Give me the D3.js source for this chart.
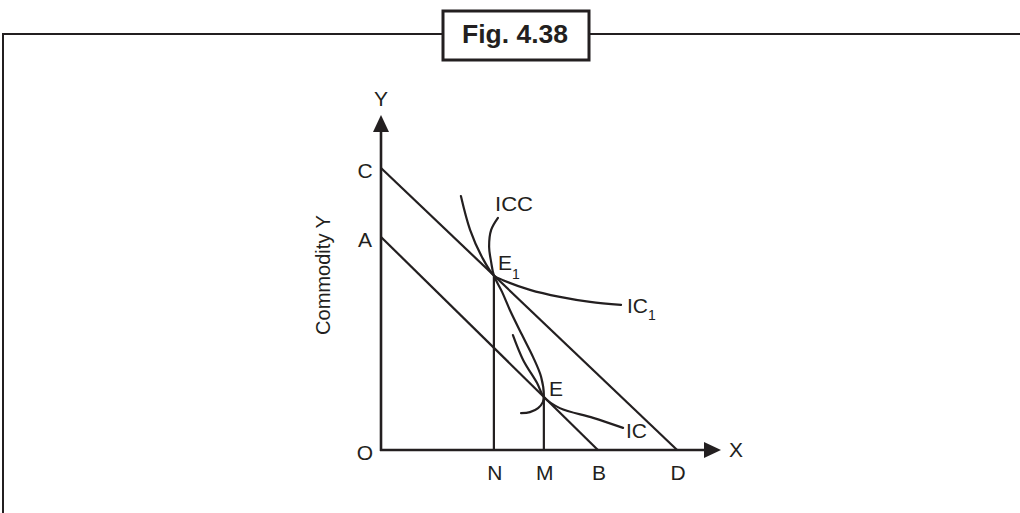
<!DOCTYPE html>
<html><head><meta charset="utf-8">
<script src="https://cdn.jsdelivr.net/npm/d3@7"></script>
<style>html,body{margin:0;padding:0;background:#fff;}svg{display:block;}text{font-family:"Liberation Sans",Arial,sans-serif;fill:#231f20;}</style>
</head><body><div id="chart"></div>
<script>
// Data (in abstract axis units: 0..100 on each axis)
const budgetCD = [[0, 84.2], [87.1, 0]];
const budgetAB = [[0, 63.6], [63.8, 0]];
const pointE1 = [33.2, 52.1];
const pointE = [47.9, 15.85];
const ic1Curve = [[23.5,75.8],[26.2,65.7],[29.7,57.6],[33.2,52.1],[35.9,50.7],[43.8,47.8],[52.6,45.7],[61.5,44.2],[70.6,43.3]];
const icCurve = [[38.8,34.3],[41.8,26.9],[45.9,20.0],[47.9,15.85],[52.6,12.5],[62.4,9.6],[71.2,6.6]];
const iccCurve = [[34.4,69.3],[32.4,65.7],[31.8,60.6],[32.4,56.1],[33.2,52.1],[35.6,47.2],[37.9,41.8],[41.5,34.3],[44.7,27.8],[47.1,21.8],[47.9,15.85],[47.6,14.3],[46.2,12.5],[43.8,11.3],[41.2,11.0]];
const xTickLabels = [["N",33.2],["M",47.9],["B",63.8],["D",87.1]];
const yTickLabels = [["C",84.2],["A",63.6],["O",0]];

const W = 1020, H = 513;
const ink = "#231f20";
const svg = d3.select("#chart").append("svg").attr("width", W).attr("height", H);

const x = d3.scaleLinear().domain([0, 100]).range([381, 721]);
const y = d3.scaleLinear().domain([0, 100]).range([450, 115]);

// frame
svg.append("line").attr("x1", 3).attr("x2", W).attr("y1", 34).attr("y2", 34).attr("stroke", ink).attr("stroke-width", 2);
svg.append("line").attr("x1", 3).attr("x2", 3).attr("y1", 33).attr("y2", H).attr("stroke", ink).attr("stroke-width", 2);
svg.append("rect").attr("x", 443).attr("y", 11).attr("width", 146).attr("height", 49).attr("fill", "#fff").attr("stroke", ink).attr("stroke-width", 3);
svg.append("text").attr("x", 462).attr("y", 43).attr("font-size", 25).attr("font-weight", "bold")
  .attr("textLength", 106).attr("lengthAdjust", "spacingAndGlyphs").text("Fig. 4.38");

// axes
const axisW = 2.6;
svg.append("line").attr("x1", x(0)).attr("x2", x(0)).attr("y1", y(0) + 1).attr("y2", y(100) + 14).attr("stroke", ink).attr("stroke-width", axisW);
svg.append("line").attr("x1", x(0) - 1).attr("x2", x(100) - 14).attr("y1", y(0)).attr("y2", y(0)).attr("stroke", ink).attr("stroke-width", axisW);
svg.append("path").attr("d", `M${x(0)},${y(100)} L${x(0)-8},${y(100)+17} L${x(0)+8},${y(100)+17} Z`).attr("fill", ink);
svg.append("path").attr("d", `M${x(100)},${y(0)} L${x(100)-17},${y(0)-8} L${x(100)-17},${y(0)+8} Z`).attr("fill", ink);

const line = d3.line().x(d => x(d[0])).y(d => y(d[1]));
const curve = d3.line().x(d => x(d[0])).y(d => y(d[1])).curve(d3.curveCatmullRom.alpha(0.5));
const lw = 2.2;

[budgetCD, budgetAB].forEach(b => svg.append("path").attr("d", line(b)).attr("fill", "none").attr("stroke", ink).attr("stroke-width", lw));
// verticals
svg.append("path").attr("d", line([[pointE1[0], 0], pointE1])).attr("fill", "none").attr("stroke", ink).attr("stroke-width", lw);
svg.append("path").attr("d", line([[pointE[0], 0], pointE])).attr("fill", "none").attr("stroke", ink).attr("stroke-width", lw);
[ic1Curve, icCurve, iccCurve].forEach(c => svg.append("path").attr("d", curve(c)).attr("fill", "none").attr("stroke", ink).attr("stroke-width", lw).attr("stroke-linecap", "round"));

// labels
const fs = 21;
xTickLabels.forEach(([t, v]) => svg.append("text").attr("x", x(v) + 1).attr("y", 480).attr("text-anchor", "middle").attr("font-size", fs).text(t));
yTickLabels.forEach(([t, v]) => svg.append("text").attr("x", 365).attr("y", y(v) + 10).attr("text-anchor", "middle").attr("font-size", fs).text(t));
svg.append("text").attr("x", x(0)).attr("y", 106).attr("text-anchor", "middle").attr("font-size", fs).text("Y");
svg.append("text").attr("x", 729).attr("y", 457).attr("font-size", fs).text("X");
svg.append("text").attr("transform", "translate(330,275) rotate(-90)").attr("text-anchor", "middle").attr("font-size", 21)
  .attr("textLength", 120).attr("lengthAdjust", "spacingAndGlyphs").text("Commodity Y");

svg.append("text").attr("x", 495).attr("y", 211).attr("font-size", fs).attr("textLength", 38).attr("lengthAdjust", "spacingAndGlyphs").text("ICC");
const e1 = svg.append("text").attr("x", 498).attr("y", 270).attr("font-size", fs);
e1.append("tspan").text("E");
e1.append("tspan").attr("font-size", 14).attr("dy", 9).text("1");
svg.append("text").attr("x", 549).attr("y", 396).attr("font-size", fs).text("E");
const ic1 = svg.append("text").attr("x", 627).attr("y", 313).attr("font-size", fs);
ic1.append("tspan").text("IC");
ic1.append("tspan").attr("font-size", 14).attr("dy", 7).text("1");
svg.append("text").attr("x", 626).attr("y", 438).attr("font-size", fs).text("IC");
</script></body></html>
